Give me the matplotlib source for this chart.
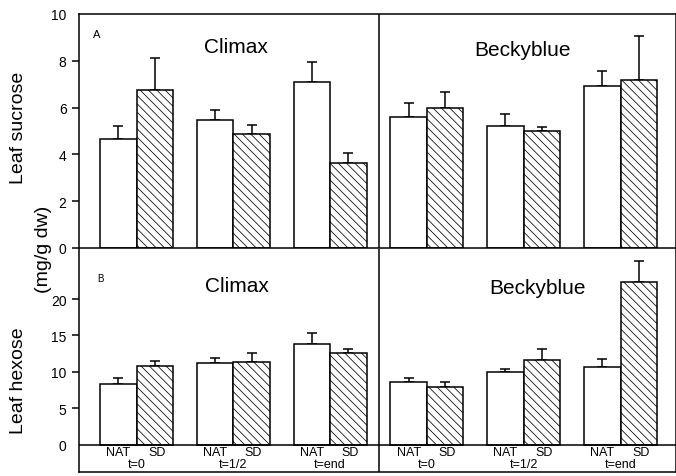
import matplotlib
matplotlib.use('Agg')
import matplotlib.pyplot as plt
import numpy as np

plt.rcParams['font.family'] = ['Liberation Sans', 'DejaVu Sans']
plt.rcParams['hatch.linewidth'] = 0.55

#%% Data (mean, upper error bar top)
groups = ['t=0', 't=1/2', 't=end', 't=0', 't=1/2', 't=end']
cultivars = ['Climax', 'Beckyblue']

sucrose_nat = [4.66, 5.48, 7.09, 5.60, 5.23, 6.94]
sucrose_nat_err = [0.55, 0.42, 0.86, 0.60, 0.50, 0.61]
sucrose_sd = [6.77, 4.87, 3.63, 5.98, 4.99, 7.19]
sucrose_sd_err = [1.35, 0.40, 0.43, 0.70, 0.19, 1.88]

hexose_nat = [8.4, 11.2, 13.9, 8.6, 10.0, 10.7]
hexose_nat_err = [0.8, 0.7, 1.4, 0.6, 0.4, 1.1]
hexose_sd = [10.8, 11.4, 12.6, 8.0, 11.7, 22.3]
hexose_sd_err = [0.7, 1.2, 0.5, 0.6, 1.4, 2.9]

#%% Layout
W, H = 676, 477
fig = plt.figure(figsize=(W / 100, H / 100), dpi=100)
x_left, x_right = 79, 676
ax1 = fig.add_axes([x_left / W, 1 - 249 / H, (x_right - x_left) / W, (249 - 15) / H])
ax2 = fig.add_axes([x_left / W, 1 - 473 / H, (x_right - x_left) / W, (473 - 250) / H])

xpos = np.arange(6)
bw = 0.377
xlim = (-0.594, 5.573)
lw = 1.1


def draw_panel(ax, nat, nat_err, sd, sd_err):
    ax.bar(xpos - bw / 2, nat, bw, color='white', edgecolor='black', linewidth=lw, zorder=2)
    ax.bar(xpos + bw / 2, sd, bw, color='white', edgecolor='black', linewidth=lw,
           hatch='\\\\\\\\', zorder=2)
    ax.errorbar(xpos - bw / 2, nat, yerr=[np.zeros(6), nat_err], fmt='none',
                ecolor='black', elinewidth=lw, capsize=3.3, capthick=lw, zorder=1)
    ax.errorbar(xpos + bw / 2, sd, yerr=[np.zeros(6), sd_err], fmt='none',
                ecolor='black', elinewidth=lw, capsize=3.3, capthick=lw, zorder=1)
    ax.axvline(2.5, color='black', linewidth=lw)
    ax.set_xlim(*xlim)
    ax.set_xticks([])
    for s in ax.spines.values():
        s.set_linewidth(lw)
    ax.tick_params(axis='y', direction='out', length=5, width=lw, labelsize=10, pad=4)


#%% Top panel: sucrose
draw_panel(ax1, sucrose_nat, sucrose_nat_err, sucrose_sd, sucrose_sd_err)
ax1.set_ylim(0, 10)
ax1.set_yticks([0, 2, 4, 6, 8, 10])
ax1.yaxis.get_major_ticks()[-1].tick1line.set_visible(False)
ax1.text(-0.41, 9.15, 'A', fontsize=8, ha='center', va='center')
ax1.text(1.03, 8.6, cultivars[0], fontsize=15, ha='center', va='center')
ax1.text(3.99, 8.5, cultivars[1], fontsize=15, ha='center', va='center')

#%% Bottom panel: hexose
draw_panel(ax2, hexose_nat, hexose_nat_err, hexose_sd, hexose_sd_err)
ax2.spines['top'].set_visible(False)
ax2.set_ylim(-3.7, 26.85)
ax2.set_yticks([0, 5, 10, 15, 20])
ax2.yaxis.get_major_ticks()[0].tick1line.set_visible(False)
ax2.axhline(0, color='black', linewidth=lw, zorder=3)
ax2.text(-0.37, 22.9, 'B', fontsize=7, ha='center', va='center')
ax2.text(1.04, 21.8, cultivars[0], fontsize=15, ha='center', va='center')
ax2.text(4.14, 21.6, cultivars[1], fontsize=15, ha='center', va='center')
for i, g in enumerate(groups):
    ax2.text(xpos[i] - bw / 2, -0.95, 'NAT', fontsize=9, ha='center', va='center')
    ax2.text(xpos[i] + bw / 2 + 0.02, -0.95, 'SD', fontsize=9, ha='center', va='center')
    ax2.text(xpos[i], -2.55, g, fontsize=9, ha='center', va='center')

#%% Axis labels
fig.text(19 / W, 1 - 128 / H, 'Leaf sucrose', rotation=90, fontsize=14, ha='center', va='center')
fig.text(43 / W, 1 - 249 / H, '(mg/g dw)', rotation=90, fontsize=14, ha='center', va='center')
fig.text(19 / W, 1 - 381 / H, 'Leaf hexose', rotation=90, fontsize=14, ha='center', va='center')

fig.savefig('out.png', dpi=100)
